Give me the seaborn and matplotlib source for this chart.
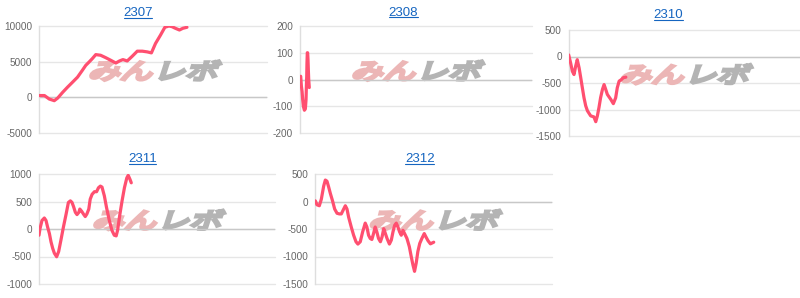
import matplotlib
matplotlib.use("Agg")
import matplotlib.pyplot as plt
import seaborn as sns
from matplotlib.patheffects import AbstractPathEffect
from matplotlib.transforms import Affine2D, offset_copy
from matplotlib.lines import Line2D

# ---------------- data ----------------
titles = ["2307", "2308", "2310", "2311", "2312"]

x_2307 = [0, 2.4, 4.5, 6.7, 8.2, 10.4, 12.5, 14.7, 16.9, 19.0, 20.5, 22.0, 23.4, 24.9,
          27.0, 29.2, 31.5, 33.7, 35.3, 36.8, 38.7, 40.9, 43.1, 45.3, 47.5, 49.3, 51.1,
          53.3, 55.2, 57.0, 58.3, 59.8, 61.6, 63.1, 64.9]
y_2307 = [250, 250, -240, -470, -100, 710, 1420, 2120, 2830, 3780, 4480, 4960, 5430, 5990,
          5900, 5570, 5190, 4810, 5100, 5290, 5100, 5760, 6470, 6470, 6370, 6230, 7550,
          8730, 9820, 10000, 9910, 9680, 9440, 9680, 9820]

x_2308 = [0.3, 0.6, 0.9, 1.15, 1.45, 1.9, 2.3, 2.6, 2.75, 2.9, 3.0, 3.15, 3.3, 3.45, 3.6, 3.75, 4.0]
y_2308 = [12, -25, -45, -75, -100, -115, -110, -75, -25, 12, 60, 100, 100, 75, 35, 0, -30]

x_2310 = [0, 0.85, 1.6, 2.3, 3.0, 3.7, 4.5, 5.2, 5.9, 6.6, 7.35, 8.1, 9.5, 10.9, 11.7, 12.4,
          13.1, 13.8, 14.6, 15.3, 16.0, 16.7, 18.2, 19.3, 20.3, 21.0, 21.8, 22.8, 23.6, 24.7]
y_2310 = [30, -125, -280, -340, -185, -60, -215, -400, -590, -775, -930, -1025, -1120, -1140,
          -1230, -1120, -960, -775, -620, -530, -620, -715, -810, -890, -780, -590, -465,
          -435, -400, -390]

x_2311 = [0, 0.42, 1.27, 2.26, 2.97, 3.64, 4.41, 5.08, 5.8, 6.51, 7.47, 8.33, 9.29, 10.35,
          11.5, 12.45, 13.3, 14.0, 14.66, 15.4, 16.1, 16.9, 17.3, 18.1, 18.8, 19.6, 20.3,
          21.1, 21.7, 22.5, 23.5, 24.4, 25.2, 26.0, 26.7, 27.7, 28.6, 29.8, 30.9, 31.9,
          32.7, 33.3, 34.3, 35.2, 36.2, 37.2, 37.8, 38.6, 39.1]
y_2311 = [-113, 6, 155, 200, 155, 36, -83, -232, -351, -440, -505, -410, -202, 36, 274, 482,
          512, 482, 405, 304, 262, 304, 363, 321, 274, 226, 274, 363, 542, 631, 678, 678,
          750, 780, 762, 601, 393, 155, -24, -113, -125, -24, 274, 512, 750, 928, 976,
          898, 840]

x_2312 = [0.14, 0.84, 1.83, 2.67, 3.66, 4.36, 5.06, 5.77, 6.5, 7.4, 8.3, 9.3, 10.3, 11.1,
          12.1, 12.8, 13.5, 14.2, 15.3, 16.3, 17.3, 18.1, 19.1, 20.1, 21.2, 21.9, 22.6,
          23.3, 24.0, 24.7, 25.4, 26.1, 26.8, 27.6, 28.3, 29.0, 29.7, 30.4, 31.4, 32.2,
          32.9, 33.6, 34.3, 35.0, 35.7, 36.4, 37.1, 37.8, 38.8, 39.8, 40.6, 41.3, 42.0,
          42.7, 43.4, 44.2, 45.1, 46.1, 46.8, 47.7, 48.7, 50.1]
y_2312 = [12, -60, -77, 42, 280, 390, 369, 262, 143, 12, -137, -214, -226, -226, -137, -77,
          -137, -286, -464, -613, -732, -774, -732, -553, -393, -464, -613, -672, -690,
          -583, -464, -553, -672, -732, -643, -494, -583, -672, -774, -702, -553, -434,
          -393, -464, -553, -613, -524, -583, -672, -821, -1000, -1148, -1270, -1119,
          -910, -762, -672, -583, -643, -714, -770, -740]

series_x = [x_2307, x_2308, x_2310, x_2311, x_2312]
series_y = [y_2307, y_2308, y_2310, y_2311, y_2312]
y_limits = [(-5000, 10000), (-200, 200), (-1500, 500), (-1000, 1000), (-1500, 500)]
y_steps = [5000, 100, 500, 500, 500]
X_MAX = 100

# ---------------- style ----------------
W, H = 800, 298
LINE = "#ff4f70"
GRID = "#e6e6e6"
BASE = "#c8c8c8"
LABEL = "#666666"
LINK = "#1565c0"

sns.set_style("white")
plt.rcParams["font.family"] = ["Liberation Sans", "DejaVu Sans"]

# panel boxes in pixels: left, top, right, bottom
boxes = [(39, 26, 267, 133), (300, 26, 532, 133), (568.7, 30, 800, 136),
         (39, 174, 275, 284), (315, 174, 552, 284)]
title_pos = [(138, 13), (403.5, 12.5), (668.5, 15.5), (142.5, 159.5), (419.7, 159.5)]


class Stretch(AbstractPathEffect):
    """Wide, slanted, heavy rendering of the watermark text."""

    def __init__(self, ax, anchor, color, sx=1.45, shear=18, stroke=2.4):
        super().__init__()
        self.ax, self.anchor, self.sx, self.shear = ax, anchor, sx, shear
        self.color, self.stroke = color, stroke

    def draw_path(self, renderer, gc, tpath, affine, rgbFace=None):
        cx, cy = self.ax.transAxes.transform(self.anchor)
        extra = (Affine2D().translate(-cx, -cy).scale(self.sx, 1)
                 .skew_deg(self.shear, 0).translate(cx, cy))
        gc0 = renderer.new_gc()
        gc0.copy_properties(gc)
        gc0.set_linewidth(self.stroke)
        gc0.set_foreground(self.color)
        gc0.set_joinstyle("miter")
        renderer.draw_path(gc0, tpath, affine + extra, rgbFace)
        gc0.restore()


fig = plt.figure(figsize=(W / 100, H / 100), dpi=100)
title_texts = []
for i, (l, t, r, b) in enumerate(boxes):
    ax = fig.add_axes([l / W, 1 - b / H, (r - l) / W, (b - t) / H])
    sns.lineplot(x=series_x[i], y=series_y[i], ax=ax, color=LINE, linewidth=2.3,
                 sort=False, estimator=None, zorder=4)
    lo, hi = y_limits[i]
    ax.set_ylim(lo, hi)
    ax.set_xlim(0, X_MAX)
    ticks = list(range(lo, hi + 1, y_steps[i]))
    ax.set_yticks(ticks)
    ax.set_yticklabels([str(v) for v in ticks])
    ax.set_xticks([])
    ax.tick_params(axis="y", length=0, pad=5, labelsize=7.2, labelcolor=LABEL)
    ax.grid(axis="y", color=GRID, linewidth=1.0)
    for gl in ax.get_ygridlines():
        gl.set_clip_on(False)
    ax.axhline(0, color=BASE, linewidth=1.0, zorder=2)
    for s in ["top", "right", "bottom"]:
        ax.spines[s].set_visible(False)
    ax.spines["left"].set_color("#dedede")
    ax.spines["left"].set_linewidth(1.0)
    ax.set_xlabel("")
    ax.set_ylabel("")

    # watermark
    anchor = (0.5, 0.565)
    pink, grey = "#ecb6b6", "#b4b4b4"
    tr_l = offset_copy(ax.transAxes, fig=fig, x=0.5, y=0, units="points")
    tr_r = offset_copy(ax.transAxes, fig=fig, x=1.0, y=0, units="points")
    ax.text(anchor[0], anchor[1], "みん", transform=tr_l, ha="right", va="center",
            fontsize=16, color=pink, family=["Noto Sans CJK JP", "DejaVu Sans"],
            path_effects=[Stretch(ax, anchor, pink)], zorder=1.5)
    ax.text(anchor[0], anchor[1], "レボ", transform=tr_r, ha="left", va="center",
            fontsize=16, color=grey, family=["Noto Sans CJK JP", "DejaVu Sans"],
            path_effects=[Stretch(ax, anchor, grey)], zorder=1.5)

    tx, ty = title_pos[i]
    tt = fig.text(tx / W, 1 - ty / H, titles[i], ha="center", va="center",
                  fontsize=9.5, color=LINK)
    title_texts.append(tt)

fig.canvas.draw()
renderer = fig.canvas.get_renderer()
for tt in title_texts:
    bb = tt.get_window_extent(renderer)
    yline = (bb.y0 + 1.3) / H
    fig.add_artist(Line2D([(bb.x0 + 0.5) / W, (bb.x1 - 0.5) / W], [yline, yline],
                          transform=fig.transFigure, color=LINK, linewidth=0.8))

fig.savefig("out.png", dpi=100)
